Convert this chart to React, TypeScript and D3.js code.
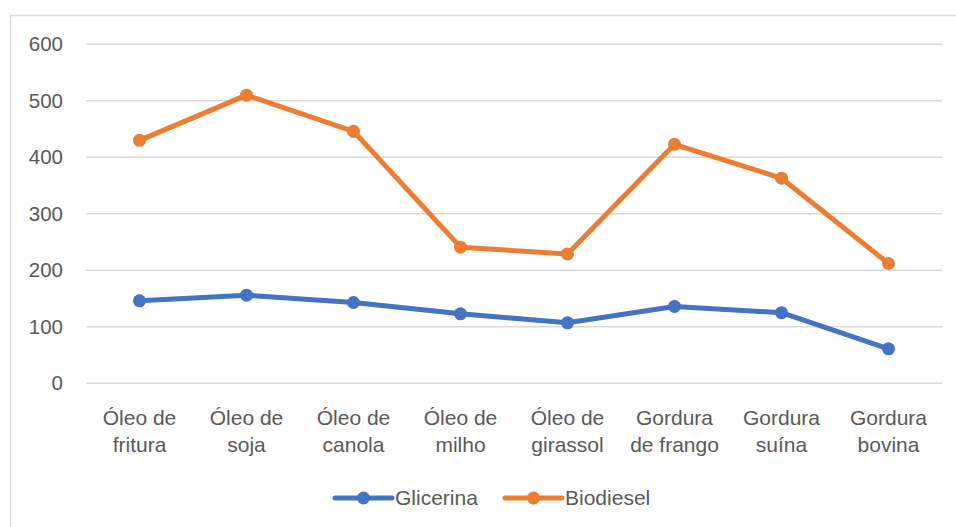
import React, { useEffect, useRef } from "react";
import * as d3 from "d3";

const categories = [
  ["Óleo de", "fritura"],
  ["Óleo de", "soja"],
  ["Óleo de", "canola"],
  ["Óleo de", "milho"],
  ["Óleo de", "girassol"],
  ["Gordura", "de frango"],
  ["Gordura", "suína"],
  ["Gordura", "bovina"],
];
const glicerina = [146, 156, 143, 123, 107, 136, 125, 61];
const biodiesel = [430, 510, 446, 241, 229, 423, 363, 212];
const yTicks = [0, 100, 200, 300, 400, 500, 600];

const series = [
  { name: "Glicerina", values: glicerina, color: "#4472C4" },
  { name: "Biodiesel", values: biodiesel, color: "#ED7D31" },
];

const FONT = "'Liberation Sans', Arial, sans-serif";

const App = () => {
  const svgRef = useRef<SVGSVGElement>(null);

  useEffect(() => {
    const svg = d3.select(svgRef.current);
    svg.selectAll("*").remove();

    const w = 956;
    const h = 527;

    // chart frame
    svg
      .append("rect")
      .attr("x", 10.5)
      .attr("y", 15.5)
      .attr("width", 960)
      .attr("height", 530)
      .attr("fill", "white")
      .attr("stroke", "#d9d9d9")
      .attr("stroke-width", 1.5);

    const x = d3
      .scaleBand()
      .domain(categories.map((_, i) => String(i)))
      .range([86, 942]);

    const y = d3.scaleLinear().domain([0, 600]).range([383.3, 44.3]);

    // gridlines
    svg
      .append("g")
      .selectAll("line")
      .data(yTicks)
      .join("line")
      .attr("x1", 86)
      .attr("x2", 942)
      .attr("y1", (d) => y(d))
      .attr("y2", (d) => y(d))
      .attr("stroke", "#d9d9d9")
      .attr("stroke-width", 1.5);

    // y tick labels
    svg
      .append("g")
      .selectAll("text")
      .data(yTicks)
      .join("text")
      .attr("x", 63)
      .attr("y", (d) => y(d))
      .attr("dy", "0.35em")
      .attr("text-anchor", "end")
      .attr("font-family", FONT)
      .attr("font-size", 20.5)
      .attr("fill", "#595959")
      .text((d) => d);

    // category labels
    const cat = svg
      .append("g")
      .selectAll("text")
      .data(categories)
      .join("text")
      .attr("text-anchor", "middle")
      .attr("font-family", FONT)
      .attr("font-size", 21)
      .attr("fill", "#595959");
    cat
      .append("tspan")
      .attr("x", (_, i) => x(String(i))! + x.bandwidth() / 2)
      .attr("y", 425)
      .text((d) => d[0]);
    cat
      .append("tspan")
      .attr("x", (_, i) => x(String(i))! + x.bandwidth() / 2)
      .attr("y", 452)
      .text((d) => d[1]);

    const line = d3
      .line<number>()
      .x((_, i) => x(String(i))! + x.bandwidth() / 2)
      .y((d) => y(d));

    series.forEach((s) => {
      svg
        .append("path")
        .datum(s.values)
        .attr("d", line)
        .attr("fill", "none")
        .attr("stroke", s.color)
        .attr("stroke-width", 5)
        .attr("stroke-linejoin", "round")
        .attr("stroke-linecap", "round");
      svg
        .append("g")
        .selectAll("circle")
        .data(s.values)
        .join("circle")
        .attr("cx", (_, i) => x(String(i))! + x.bandwidth() / 2)
        .attr("cy", (d) => y(d))
        .attr("r", 6.5)
        .attr("fill", s.color);
    });

    // legend
    const legendX = [335, 505];
    series.forEach((s, i) => {
      const g = svg.append("g").attr("transform", `translate(${legendX[i]},498)`);
      g.append("line")
        .attr("x1", 0)
        .attr("x2", 57)
        .attr("stroke", s.color)
        .attr("stroke-width", 5)
        .attr("stroke-linecap", "round");
      g.append("circle").attr("cx", 28.5).attr("r", 6.5).attr("fill", s.color);
      g.append("text")
        .attr("x", 60)
        .attr("dy", "0.35em")
        .attr("font-family", FONT)
        .attr("font-size", 21)
        .attr("fill", "#595959")
        .text(s.name);
    });

    svg.attr("width", w).attr("height", h);
  }, []);

  return (
    <svg
      ref={svgRef}
      style={{ position: "absolute", left: 0, top: 0, display: "block" }}
    ></svg>
  );
};

export default App;
